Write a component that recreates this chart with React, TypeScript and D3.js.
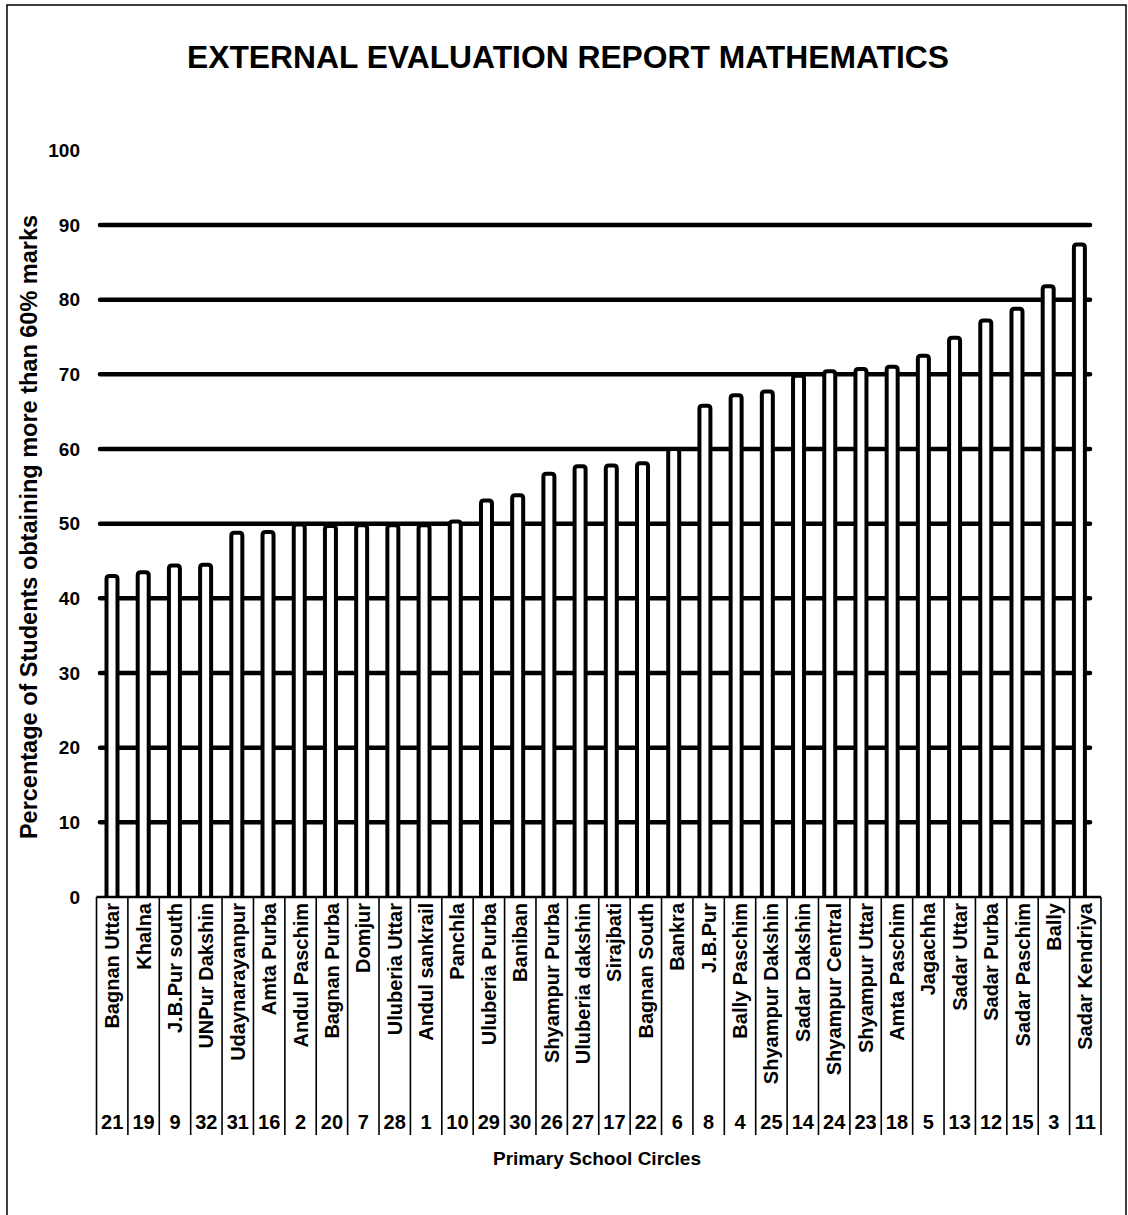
import React from "react";
import * as d3 from "d3";

const categories = [
  "Bagnan Uttar", "Khalna", "J.B.Pur south", "UNPur Dakshin", "Udaynarayanpur",
  "Amta Purba", "Andul Paschim", "Bagnan Purba", "Domjur", "Uluberia Uttar",
  "Andul sankrail", "Panchla", "Uluberia Purba", "Baniban", "Shyampur Purba",
  "Uluberia dakshin", "Sirajbati", "Bagnan South", "Bankra", "J.B.Pur",
  "Bally Paschim", "Shyampur Dakshin", "Sadar Dakshin", "Shyampur Central",
  "Shyampur Uttar", "Amta Paschim", "Jagachha", "Sadar Uttar", "Sadar Purba",
  "Sadar Paschim", "Bally", "Sadar Kendriya",
];

const percentages = [
  43.0, 43.5, 44.4, 44.5, 48.8, 48.9, 49.9, 49.7, 49.8, 49.8, 49.8, 50.3,
  53.1, 53.8, 56.7, 57.7, 57.8, 58.1, 60.0, 65.8, 67.2, 67.7, 69.8, 70.4,
  70.7, 71.0, 72.5, 74.9, 77.2, 78.8, 81.8, 87.4,
];

const ranks = [
  21, 19, 9, 32, 31, 16, 2, 20, 7, 28, 1, 10, 29, 30, 26, 27, 17, 22, 6, 8,
  4, 25, 14, 24, 23, 18, 5, 13, 12, 15, 3, 11,
];

const yTicks = [0, 10, 20, 30, 40, 50, 60, 70, 80, 90, 100];
const gridValues = [10, 20, 30, 40, 50, 60, 70, 80, 90];

const title = "EXTERNAL EVALUATION REPORT MATHEMATICS";
const yTitle = "Percentage of Students obtaining more than 60% marks";
const xTitle = "Primary School Circles";

const FONT = "'Liberation Sans', Arial, Helvetica, sans-serif";

export default function App() {
  const W = 1128;
  const H = 1215;
  const y = d3.scaleLinear().domain([0, 90]).range([897, 225]);
  const xBar = d3.scaleBand<string>().domain(categories).range([96.4, 1095]).padding(0);
  const xCell = d3.scaleBand<string>().domain(categories).range([96.5, 1101]).padding(0);
  const barW = 11;
  const tableTop = y(0);
  const tableBottom = 1135;

  return (
    <svg
      width={W}
      height={H}
      style={{ position: "absolute", left: 0, top: 0, background: "#fff" }}
      fontFamily={FONT}
    >
      <rect x={0} y={0} width={W} height={H} fill="#fff" />
      {/* outer frame */}
      <path d={`M7,${H} V5 H1126 V${H}`} fill="none" stroke="#000" strokeWidth={1.5} />

      {/* title */}
      <text x={568} y={68} textAnchor="middle" fontSize={31.8} fontWeight="bold">
        {title}
      </text>

      {/* y-axis title */}
      <text
        transform={`translate(37,527) rotate(-90)`}
        textAnchor="middle"
        fontSize={23.5}
        fontWeight="bold"
      >
        {yTitle}
      </text>

      {/* y tick labels */}
      {yTicks.map((t) => (
        <text key={t} x={80} y={y(t)} dy="0.35em" textAnchor="end" fontSize={19} fontWeight="bold">
          {t}
        </text>
      ))}

      {/* gridlines */}
      {gridValues.map((g) => (
        <line
          key={g}
          x1={100}
          x2={1090}
          y1={y(g)}
          y2={y(g)}
          stroke="#000"
          strokeWidth={4.5}
          strokeLinecap="round"
        />
      ))}

      {/* bars */}
      {categories.map((c, i) => {
        const cx = (xBar(c) as number) + xBar.bandwidth() / 2;
        const top = y(percentages[i]);
        return (
          <path
            key={c}
            d={`M${cx - barW / 2},${tableTop} V${top + 3} Q${cx - barW / 2},${top} ${cx - barW / 2 + 3},${top} H${cx + barW / 2 - 3} Q${cx + barW / 2},${top} ${cx + barW / 2},${top + 3} V${tableTop}`}
            fill="#fff"
            stroke="#000"
            strokeWidth={4}
          />
        );
      })}

      {/* table */}
      <line x1={xCell.range()[0]} x2={xCell.range()[1]} y1={tableTop} y2={tableTop} stroke="#000" strokeWidth={2.5} />
      {[...categories.map((c) => xCell(c) as number), xCell.range()[1]].map((bx, i) => (
        <line key={i} x1={bx} x2={bx} y1={tableTop} y2={tableBottom} stroke="#000" strokeWidth={1.6} />
      ))}

      {/* category labels */}
      {categories.map((c) => {
        const cx = (xCell(c) as number) + xCell.bandwidth() / 2;
        return (
          <text
            key={c}
            transform={`translate(${cx},903) rotate(-90)`}
            dy="0.35em"
            textAnchor="end"
            fontSize={20}
            fontWeight="bold"
          >
            {c}
          </text>
        );
      })}

      {/* ranks */}
      {categories.map((c, i) => {
        const cx = (xCell(c) as number) + xCell.bandwidth() / 2;
        return (
          <text key={c} x={cx} y={1129} textAnchor="middle" fontSize={20} fontWeight="bold">
            {ranks[i]}
          </text>
        );
      })}

      {/* x-axis title */}
      <text x={597} y={1165} textAnchor="middle" fontSize={19} fontWeight="bold">
        {xTitle}
      </text>
    </svg>
  );
}
